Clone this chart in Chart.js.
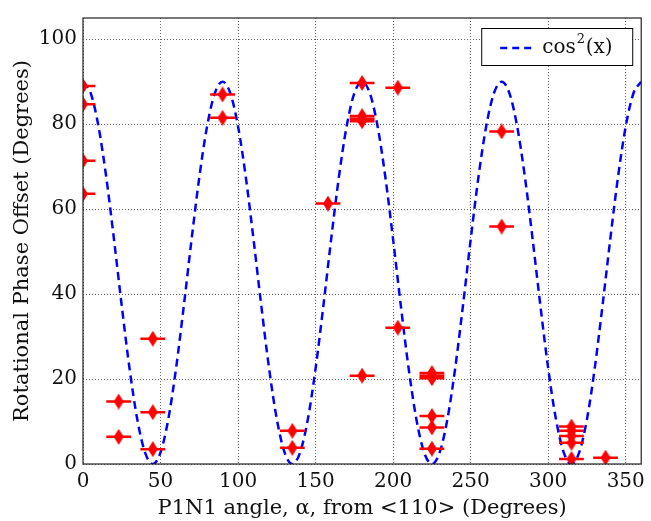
<!DOCTYPE html>
<html>
<head>
<meta charset="utf-8">
<script src="https://cdn.jsdelivr.net/npm/chart.js@4"></script>
<style>
  html, body { margin: 0; padding: 0; background: #fff; }
</style>
</head>
<body>
<canvas id="myChart" width="651" height="521"></canvas>
<script>
// measured points (angle, offset), all with the same +/- horizontal error
var pointAngle = [0, 0, 0, 0, 23, 23, 45, 45, 45, 90, 90, 135, 135, 158,
  180, 180, 180, 180, 180, 203, 203, 225, 225, 225, 225, 225, 225,
  270, 270, 315, 315, 315, 315, 315, 337];
var pointOffset = [89, 84.7, 71.4, 63.6, 14.7, 6.4, 29.5, 12.2, 3.5, 87, 81.5, 7.8, 3.8, 61.3,
  89.7, 81.9, 81.3, 80.7, 20.8, 88.6, 32.1, 21.4, 20.8, 20.2, 11.3, 8.6, 3.6,
  78.3, 55.9, 8.8, 7.8, 6.6, 5.0, 1.2, 1.5];
var angleErr = 8;

// cos^2 guide curve read at 5 degree steps
var curveAngle = [0, 5, 10, 15, 20, 25, 30, 35, 40, 45, 50, 55, 60, 65, 70, 75, 80, 85,
  90, 95, 100, 105, 110, 115, 120, 125, 130, 135, 140, 145, 150, 155, 160, 165, 170, 175,
  180, 185, 190, 195, 200, 205, 210, 215, 220, 225, 230, 235, 240, 245, 250, 255, 260, 265,
  270, 275, 280, 285, 290, 295, 300, 305, 310, 315, 320, 325, 330, 335, 340, 345, 350, 355, 360];
var curveValue = [90, 87.28, 79.47, 67.5, 52.81, 37.19, 22.5, 10.53, 2.72, 0, 2.72, 10.53, 22.5, 37.19, 52.81, 67.5, 79.47, 87.28,
  90, 87.28, 79.47, 67.5, 52.81, 37.19, 22.5, 10.53, 2.72, 0, 2.72, 10.53, 22.5, 37.19, 52.81, 67.5, 79.47, 87.28,
  90, 87.28, 79.47, 67.5, 52.81, 37.19, 22.5, 10.53, 2.72, 0, 2.72, 10.53, 22.5, 37.19, 52.81, 67.5, 79.47, 87.28,
  90, 87.28, 79.47, 67.5, 52.81, 37.19, 22.5, 10.53, 2.72, 0, 2.72, 10.53, 22.5, 37.19, 52.81, 67.5, 79.47, 87.28, 90];

var xTicks = [0, 50, 100, 150, 200, 250, 300, 350];
var yTicks = [0, 20, 40, 60, 80, 100];

var serif = "'DejaVu Serif', serif";

var points = [], errBars = [], curve = [];
for (var i = 0; i < pointAngle.length; i++) {
  points.push({x: pointAngle[i], y: pointOffset[i]});
  errBars.push({x: pointAngle[i] - angleErr, y: pointOffset[i]});
  errBars.push({x: pointAngle[i] + angleErr, y: pointOffset[i]});
  errBars.push({x: pointAngle[i], y: null});
}
for (var j = 0; j < curveAngle.length; j++) {
  curve.push({x: curveAngle[j], y: curveValue[j]});
}

// thin red diamond marker
var diamond = document.createElement('canvas');
diamond.width = 10; diamond.height = 16;
var dg = diamond.getContext('2d');
dg.fillStyle = '#ff0000';
dg.beginPath();
dg.moveTo(5, 0); dg.lineTo(10, 8); dg.lineTo(5, 16); dg.lineTo(0, 8);
dg.closePath(); dg.fill();

var frameAndLegend = {
  id: 'frameAndLegend',
  afterDraw: function(chart) {
    var c = chart.ctx, a = chart.chartArea;
    c.save();
    c.strokeStyle = '#222';
    c.lineWidth = 1.2;
    c.strokeRect(a.left, a.top, a.right - a.left, a.bottom - a.top);

    var w = 151, h = 37, bx = a.right - 160, by = a.top + 10;
    c.fillStyle = '#fff';
    c.fillRect(bx, by, w, h);
    c.strokeStyle = '#000';
    c.lineWidth = 1;
    c.strokeRect(bx + 0.5, by + 0.5, w, h);
    c.strokeStyle = '#0000ff';
    c.lineWidth = 2.5;
    c.setLineDash([7, 5]);
    c.beginPath();
    c.moveTo(bx + 19, by + 20);
    c.lineTo(bx + 50, by + 20);
    c.stroke();
    c.setLineDash([]);
    c.fillStyle = '#111';
    c.textBaseline = 'middle';
    c.font = '20px ' + serif;
    c.fillText('cos', bx + 61, by + 20);
    var cw = c.measureText('cos').width;
    c.font = '13px ' + serif;
    c.fillText('2', bx + 62 + cw, by + 12);
    c.font = '20px ' + serif;
    c.fillText('(x)', bx + 71 + cw, by + 20);
    c.restore();
  }
};

var ctx = document.getElementById('myChart').getContext('2d');
var chart = new Chart(ctx, {
  type: 'scatter',
  data: {
    datasets: [{
      label: 'data',
      data: points,
      pointStyle: diamond,
      pointRadius: 6,
      clip: 0
    }, {
      label: 'xerr',
      data: errBars,
      showLine: true,
      spanGaps: false,
      borderColor: '#ff0000',
      borderWidth: 2.5,
      pointRadius: 0,
      clip: 0
    }, {
      label: 'cos2',
      data: curve,
      showLine: true,
      borderColor: '#0000ff',
      borderWidth: 2.5,
      borderDash: [8, 5],
      pointRadius: 0,
      cubicInterpolationMode: 'monotone',
      clip: 0
    }]
  },
  options: {
    responsive: false,
    animation: false,
    layout: { padding: { left: 0, top: 8, right: 6, bottom: 0 } },
    plugins: {
      legend: { display: false },
      tooltip: { enabled: false }
    },
    scales: {
      x: {
        type: 'linear',
        min: 0,
        max: 360,
        afterFit: function(s) { s.height = 57; },
        afterBuildTicks: function(s) { s.ticks = xTicks.map(function(v) { return {value: v}; }); },
        ticks: { color: '#111', font: { family: serif, size: 20 }, padding: 6 },
        grid: { color: '#666', lineWidth: 1, drawTicks: false },
        border: { display: false, dash: [1, 2] },
        title: {
          display: true,
          text: 'P1N1 angle, \u03b1, from <110> (Degrees)',
          color: '#111',
          font: { family: serif, size: 21 },
          padding: { top: 0, bottom: 0 }
        }
      },
      y: {
        min: 0,
        max: 105,
        afterFit: function(s) { s.width = 83; },
        afterBuildTicks: function(s) { s.ticks = yTicks.map(function(v) { return {value: v}; }); },
        ticks: { color: '#111', font: { family: serif, size: 20 }, padding: 6 },
        grid: { color: '#666', lineWidth: 1, drawTicks: false },
        border: { display: false, dash: [1, 2] },
        title: {
          display: true,
          text: 'Rotational Phase Offset (Degrees)',
          color: '#111',
          font: { family: serif, size: 21 },
          padding: { top: 10, bottom: 0 }
        }
      }
    }
  },
  plugins: [frameAndLegend]
});
</script>
</body>
</html>
